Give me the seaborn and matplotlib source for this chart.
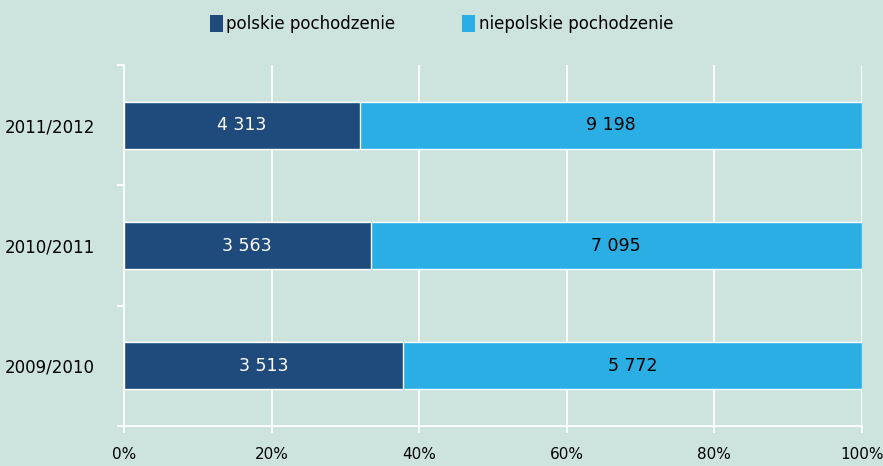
import matplotlib.pyplot as plt
import matplotlib.ticker as mticker
from matplotlib.patches import Patch
import pandas as pd
import seaborn as sns

# data
years = ["2011/2012", "2010/2011", "2009/2010"]
polish = [4313, 3563, 3513]
non_polish = [9198, 7095, 5772]
labels = ["polskie pochodzenie", "niepolskie pochodzenie"]

bg = "#cde4de"
dark = "#1f4a7c"
light = "#2aaee4"

sns.set_style("white")
plt.rcParams["font.family"] = ["DejaVu Sans"]
plt.rcParams["text.color"] = "black"

df = pd.DataFrame({"year": years, "polish": polish, "non_polish": non_polish})
df["total"] = df.polish + df.non_polish
df["pct_polish"] = df.polish / df.total * 100
df["pct_all"] = 100.0

fig = plt.figure(figsize=(8.83, 4.66), dpi=100, facecolor=bg)
ax = fig.add_axes([0.1404, 0.0858, 0.8356, 0.7747])
ax.set_facecolor(bg)

# full bar (light) then polish share on top (dark)
sns.barplot(data=df, y="year", x="pct_all", color=light, width=0.39,
            orient="h", ax=ax, saturation=1, zorder=3)
sns.barplot(data=df, y="year", x="pct_polish", color=dark, width=0.39,
            orient="h", ax=ax, saturation=1, zorder=3)

# value labels
for i, row in df.iterrows():
    ax.text(row.pct_polish / 2, i, f"{row.polish:,}".replace(",", " "),
            ha="center", va="center", color="white", fontsize=12.5, zorder=5)
    ax.text(row.pct_polish + (100 - row.pct_polish) / 2, i,
            f"{row.non_polish:,}".replace(",", " "),
            ha="center", va="center", color="black", fontsize=12.5, zorder=5)

ax.set_xlim(0, 100)
ax.set_ylim(2.5, -0.5)
ax.xaxis.set_major_locator(mticker.MultipleLocator(20))
ax.xaxis.set_major_formatter(mticker.FuncFormatter(lambda v, p: f"{v:.0f}%"))
ax.grid(axis="x", color="white", linewidth=1.3, zorder=0)
ax.set_axisbelow(True)

ax.set_yticks([-0.5, 0.5, 1.5, 2.5], minor=True)
ax.tick_params(axis="y", which="major", left=True, length=0, pad=21,
               labelsize=12, labelcolor="black")
ax.tick_params(axis="y", which="minor", left=True, length=5, color="white", width=1.3)
ax.tick_params(axis="x", bottom=True, length=5, color="white", width=1.3,
               labelsize=11, labelcolor="black", pad=10)

for s in ["top", "right"]:
    ax.spines[s].set_visible(False)
for s in ["left", "bottom"]:
    ax.spines[s].set_color("white")
    ax.spines[s].set_linewidth(1.3)

ax.set_xlabel("")
ax.set_ylabel("")

handles = [Patch(facecolor=dark, edgecolor="none"), Patch(facecolor=light, edgecolor="none")]
fig.legend(handles, labels, loc="upper center", bbox_to_anchor=(0.5, 1.0), ncol=2,
           frameon=False, fontsize=12, handlelength=0.8, handleheight=1.2,
           handletextpad=0.2, columnspacing=4.0, labelcolor="black")

fig.savefig("out.png", dpi=100, facecolor=bg)
